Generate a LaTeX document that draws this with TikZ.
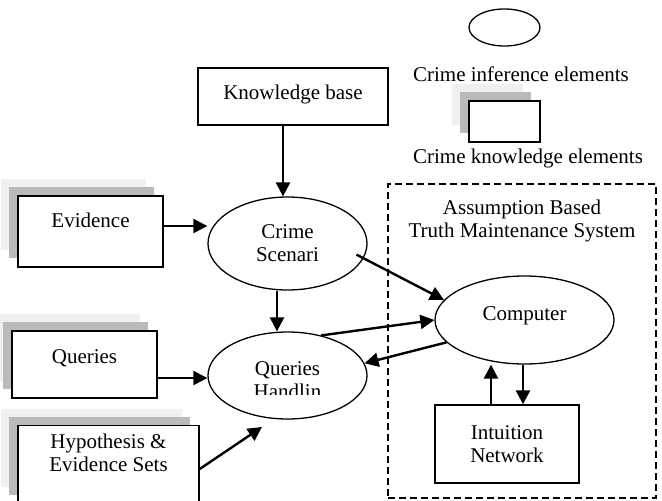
\documentclass[tikz,border=0pt]{standalone}
\usepackage{fontspec}
\setmainfont{Liberation Serif}
\usetikzlibrary{shapes.geometric,arrows.meta}
\definecolor{shadelight}{gray}{0.94}
\definecolor{shadedark}{gray}{0.73}

\begin{document}
\begin{tikzpicture}[x=1pt,y=-1pt,
	font=\fontsize{21}{23}\selectfont,
	arr/.style={line width=2.4pt,-{Triangle[length=14pt,width=14pt]}},
	oval/.style={ellipse,draw,line width=1.3pt,align=center},
	plainbox/.style={draw,line width=1.4pt,align=center},
	shadebox/.style={draw,line width=1.4pt,fill=white,align=center,text height=14pt,
		preaction={fill=shadelight,draw=none,transform canvas={shift={(-17pt,17pt)}}},
		preaction={fill=shadedark,draw=none,transform canvas={shift={(-9pt,9pt)}}}},
	tmsbox/.style={draw,line width=1.3pt,dash pattern=on 7pt off 4pt}]
	\clip (0,0) rectangle (662,501);
	
	% legend
	\node[oval,minimum width=71pt,minimum height=37pt] (keyoval) at (504.5,27.5) {};
	\node (keyinf) at (521,74) {Crime inference elements};
	\node[shadebox,minimum width=71pt,minimum height=41pt] (keybox) at (504.5,121.5) {};
	\node (keyknow) at (528,158) {Crime knowledge elements};
	
	% assumption based TMS
	\node[tmsbox,minimum width=268pt,minimum height=314pt] (tms) at (522,341) {};
	\node[align=center] (tmslbl) at (522,221) {Assumption Based\\Truth Maintenance System};
	
	% knowledge elements
	\node[plainbox,minimum width=190pt,minimum height=57pt,text height=14pt,text depth=9pt] (kb) at (293,96.5) {Knowledge base};
	\node[shadebox,minimum width=145pt,minimum height=71pt,text depth=23pt] (ev) at (90.5,231.5) {Evidence};
	\node[shadebox,minimum width=145pt,minimum height=67pt,text depth=17pt] (qr) at (84.5,364.5) {Queries};
	\node[shadebox,minimum width=181pt,minimum height=78pt] (hy) at (108.5,464.5) {Hypothesis \&\\Evidence Sets};
	
	% inference elements
	\node[oval,minimum width=159pt,minimum height=93pt] (cs) at (287.5,243.5) {Crime\\Scenari};
	\node[oval,minimum width=159pt,minimum height=87pt] (qh) at (287.5,375.5) {};
	\begin{scope}
		\clip (200,330) rectangle (380,394.5);
		\node[align=center] (qhtxt) at ([yshift=-5pt]qh.center) {Queries\\Handlin};
	\end{scope}
	\node[oval,minimum width=179pt,minimum height=88pt,text height=14pt,text depth=14pt] (comp) at (524.5,320) {Computer};
	\node[plainbox,minimum width=144pt,minimum height=78pt] (intu) at (507,444) {Intuition\\Network};
	\coordinate (qhin) at (262,427);
	
	% connectors
	\draw[arr] ([xshift=-10pt]kb.south) -- ([xshift=-10pt]kb.south |- cs.north);
	\draw[arr] ([yshift=5.5pt]ev.east) -- ([yshift=5.5pt]ev.east -| cs.west);
	\draw[arr] ([xshift=-10.5pt]cs.south) -- ([xshift=-10.5pt]cs.south |- qh.north);
	\draw[arr] ([yshift=-13.5pt]qr.east) -- ([yshift=-13.5pt]qr.east -| qh.west);
	\draw[arr] ([yshift=-4.5pt]hy.east) -- (qhin);
	\draw[arr,shorten <=-8pt] (cs.-11) -- (comp.166);
	\draw[arr] (qh.50) -- (comp.west);
	\draw[arr] (comp.196) -- (qh.9);
	\draw[arr] ([xshift=-16pt]intu.north) -- ([xshift=-16pt]intu.north |- comp.south);
	\draw[arr] ([xshift=16pt]intu.north |- comp.south) -- ([xshift=16pt]intu.north);
\end{tikzpicture}
\end{document}
